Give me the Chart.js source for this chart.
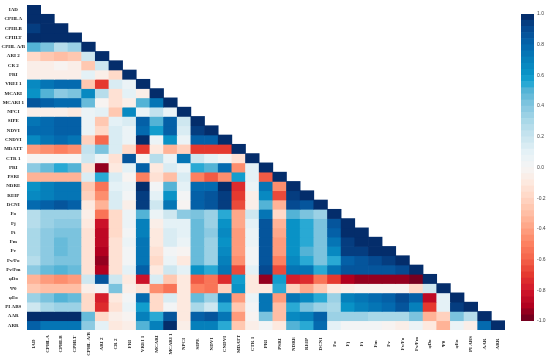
<!DOCTYPE html>
<html>
<head>
<meta charset="utf-8">
<script src="https://cdn.jsdelivr.net/npm/chart.js@4/dist/chart.umd.min.js"></script>
<style>
body { margin: 0; background: #fff; }
canvas { position: absolute; top: 0; }
#heat-canvas { left: 0; }
#cbar-canvas { left: 505px; }
</style>
</head>
<body>
<canvas id="heat-canvas" width="505" height="357"></canvas>
<canvas id="cbar-canvas" width="45" height="357"></canvas>
<script>
const labels = ['IAD', 'CPHLA', 'CPHLB', 'CPHLT', 'CPHL A/B', 'ARI 2', 'CR 2', 'FRI', 'VREI 1', 'MCARI', 'MCARI 1', 'NPCI', 'SIPE', 'NDVI', 'CNDVI', 'MDATT', 'CTR 1', 'PRI', 'PSRI', 'NDRE', 'REIP', 'DCNI', 'Fo', 'Fj', 'Fi', 'Fm', 'Fv', 'Fv/Fo', 'Fv/Fm', 'φDo', 'Ψ0', 'φEo', 'PI ABS', 'AAR', 'ARR'];

const rowIAD = [1];
const rowCPHLA = [.97, 1];
const rowCPHLB = [.95, .96, 1];
const rowCPHLT = [.96, .98, .97, 1];
const rowCPHLAB = [.5, .42, .27, .33, 1];
const rowARI2 = [-.18, -.28, -.31, -.28, .17, 1];
const rowCR2 = [-.05, -.07, -.03, -.05, -.27, .2, 1];
const rowFRI = [-.04, -.04, -.06, -.05, .1, -.04, -.2, 1];
const rowVREI1 = [.65, .72, .78, .76, -.27, -.68, .12, .05, 1];
const rowMCARI = [.6, .48, .38, .43, .65, .27, -.15, .08, -.05, 1];
const rowMCARI1 = [.85, .82, .76, .78, .45, -.03, -.15, -.04, .5, .75, 1];
const rowNPCI = [-.07, -.08, -.08, -.1, .05, .08, -.26, .65, .04, .23, .06, 1];
const rowSIPE = [.75, .78, .82, .8, .05, -.27, .1, .13, .8, .5, .8, .18, 1];
const rowNDVI = [.76, .78, .81, .8, .05, -.2, .12, .07, .77, .58, .83, .16, .95, 1];
const rowCNDVI = [.65, .75, .77, .75, -.22, -.6, .14, .05, .98, .05, .6, .04, .82, .8, 1];
const rowMDATT = [-.42, -.45, -.5, -.45, .22, .4, .13, -.18, -.7, -.12, -.36, -.22, -.7, -.72, -.7, 1];
const rowCTR1 = [-.02, -.02, -.03, -.03, .2, .04, -.14, .85, -.02, .27, .05, .72, .2, .1, .02, -.15, 1];
const rowPRI = [.37, .47, .52, .49, -.15, -.93, -.12, .1, .8, -.1, .13, .07, .55, .5, .77, -.47, .1, 1];
const rowPSRI = [-.33, -.35, -.35, -.35, .12, .55, .15, -.03, -.5, -.15, -.3, .14, -.5, -.62, -.47, .58, .1, -.62, 1];
const rowNDRE = [.6, .7, .75, .73, -.28, -.55, .1, .05, .98, .03, .48, .1, .78, .78, .98, -.75, .05, .75, -.45, 1];
const rowREIP = [.65, .7, .75, .73, -.22, -.45, .13, .03, .93, .1, .62, .03, .82, .88, .95, -.72, -.05, .65, -.65, .92, 1];
const rowDCNI = [.78, .83, .85, .83, -.1, -.33, .15, -.05, .93, .2, .75, -.03, .82, .87, .92, -.65, -.08, .5, -.33, .9, .88, 1];
const rowFo = [.27, .32, .35, .35, -.05, -.55, -.2, .04, .5, .06, .17, .37, .43, .36, .52, -.38, .18, .72, -.2, .5, .42, .33, 1];
const rowFj = [.26, .34, .39, .37, -.1, -.8, -.17, .04, .68, -.08, .1, .1, .44, .36, .62, -.38, .1, .85, -.35, .62, .52, .4, .88, 1];
const rowFi = [.29, .37, .43, .4, -.13, -.87, -.18, .03, .7, -.1, .13, .08, .45, .37, .65, -.42, .07, .85, -.38, .62, .52, .4, .8, .97, 1];
const rowFm = [.3, .38, .44, .42, -.13, -.87, -.15, .04, .72, -.1, .13, .06, .44, .36, .62, -.42, .05, .87, -.4, .62, .53, .41, .72, .92, .97, 1];
const rowFv = [.28, .38, .44, .41, -.13, -.88, -.13, .03, .72, -.15, .03, -.03, .44, .36, .65, -.42, .03, .87, -.42, .63, .5, .41, .65, .92, .95, .98, 1];
const rowFvFo = [.25, .38, .42, .4, -.13, -.92, -.13, .03, .75, -.2, .05, -.1, .46, .36, .68, -.45, .02, .87, -.5, .65, .55, .43, .55, .8, .85, .9, .92, 1];
const rowFvFm = [.37, .47, .5, .47, -.13, -.88, -.13, .1, .82, -.12, .2, .1, .62, .53, .75, -.65, .1, .9, -.65, .73, .72, .52, .73, .85, .85, .88, .88, .9, 1];
const rowPhiDo = [-.33, -.43, -.48, -.43, .17, .87, .18, -.1, -.8, .13, -.25, -.1, -.62, -.52, -.75, .58, -.1, -.95, .58, -.77, -.73, -.52, -.72, -.9, -.92, -.92, -.93, -.93, -.97, 1];
const rowPsi0 = [-.28, -.3, -.3, -.3, -.04, 0, .43, -.08, -.13, -.45, -.55, -.1, -.5, -.55, -.22, .6, -.1, -.1, .55, -.22, -.38, -.25, -.1, -.05, -.03, -.03, -.02, -.02, -.2, .2, 1];
const rowPhiEo = [.33, .43, .48, .45, -.2, -.78, -.12, .03, .78, -.2, .15, -.1, .45, .36, .75, -.42, .04, .75, -.42, .75, .65, .52, .35, .7, .75, .78, .82, .9, .8, -.85, .08, 1];
const rowPIABS = [.17, .3, .33, .32, -.18, -.75, -.13, .04, .58, -.2, .03, -.1, .3, .17, .52, -.27, .02, .72, -.3, .52, .4, .35, .3, .62, .7, .73, .76, .88, .7, -.7, .09, .92, 1];
const rowAAR = [.97, .97, .97, .96, .47, -.2, -.04, -.03, .7, .55, .85, -.1, .82, .85, .75, -.42, -.02, .4, -.3, .65, .68, .8, .35, .33, .33, .3, .3, .28, .42, -.35, -.22, .43, .25, 1];
const rowARR = [.82, .75, .73, .75, .37, .1, -.1, -.07, .5, .7, .98, -.04, .68, .7, .55, -.27, -.07, .03, -.1, .5, .55, .78, .08, .02, .02, .02, -.03, -.06, .07, -.1, -.35, .07, -.05, .78, 1];

const rows = [rowIAD, rowCPHLA, rowCPHLB, rowCPHLT, rowCPHLAB, rowARI2, rowCR2, rowFRI, rowVREI1, rowMCARI, rowMCARI1, rowNPCI, rowSIPE, rowNDVI, rowCNDVI, rowMDATT, rowCTR1, rowPRI, rowPSRI, rowNDRE, rowREIP, rowDCNI, rowFo, rowFj, rowFi, rowFm, rowFv, rowFvFo, rowFvFm, rowPhiDo, rowPsi0, rowPhiEo, rowPIABS, rowAAR, rowARR];

const cbarLevels = [-.98, -.94, -.9, -.86, -.82, -.78, -.74, -.7, -.66, -.62, -.58, -.54, -.5, -.46, -.42, -.38, -.34, -.3, -.26, -.22, -.18, -.14, -.1, -.06, -.02, .02, .06, .1, .14, .18, .22, .26, .3, .34, .38, .42, .46, .5, .54, .58, .62, .66, .7, .74, .78, .82, .86, .9, .94, .98];
const cbarTicks = [-1, -.8, -.6, -.4, -.2, 0, .2, .4, .6, .8, 1];

const colorStops = [
	[-1, '#67001f'], [-.9, '#b2001f'], [-.8, '#d1172b'], [-.7, '#e5392f'], [-.6, '#f4634a'],
	[-.5, '#fd8060'], [-.4, '#fea283'], [-.3, '#ffbea5'], [-.2, '#ffd6c4'], [-.1, '#fde9df'],
	[0, '#f5f5f5'], [.1, '#e4f1f6'], [.2, '#c9e5ef'], [.3, '#a9d8e8'], [.4, '#85c7e0'],
	[.5, '#53b3d6'], [.55, '#1fa6d3'], [.6, '#0a97c9'], [.7, '#0680bb'], [.8, '#0465ac'],
	[.9, '#054a91'], [.95, '#053a7c'], [1, '#03255f'],
];

const hexToRgb = hex => [1, 3, 5].map(i => parseInt(hex.slice(i, i + 2), 16));

const getColor = value => {
	// the colour bar has 50 flat bands, the cells use the same ones
	const band = Math.min(Math.max(Math.round((value + .98) / .04), 0), 49);
	const v = -.98 + band * .04;
	let i = 0;
	while (i < colorStops.length - 2 && v > colorStops[i + 1][0]) i++;
	const [v0, c0] = colorStops[i];
	const [v1, c1] = colorStops[i + 1];
	const t = (v - v0) / (v1 - v0);
	const a = hexToRgb(c0);
	const b = hexToRgb(c1);
	return `rgb(${a.map((c, k) => Math.round(c + (b[k] - c) * t)).join(',')})`;
}

const xLabelsPlugin = {
	id: 'xLabels',
	afterDraw(chart) {
		const { ctx, scales: { x } } = chart;
		ctx.save();
		ctx.font = 'bold 5px "Liberation Serif"';
		ctx.fillStyle = '#222';
		ctx.textAlign = 'center';
		ctx.textBaseline = 'middle';
		labels.forEach((label, i) => {
			ctx.save();
			ctx.translate(x.getPixelForValue(i), 344);
			ctx.rotate(-Math.PI / 2);
			ctx.fillText(label, 0, 0);
			ctx.restore();
		});
		ctx.restore();
	}
};

new Chart(document.querySelector('#heat-canvas').getContext('2d'), {
	type: 'bar',
	data: {
		labels: labels,
		datasets: rows.map((row, r) => ({
			label: labels[r],
			data: row.map((_, c) => ({ x: labels[c], y: [r - .5, r + .5] })),
			backgroundColor: row.map(getColor),
			barPercentage: 1,
			categoryPercentage: 1,
			grouped: false,
		}))
	},
	options: {
		responsive: false,
		animation: false,
		layout: { padding: { left: 0, top: 4, right: 0, bottom: 27 } },
		plugins: { legend: { display: false }, tooltip: { enabled: false } },
		scales: {
			x: {
				type: 'category',
				grid: { display: false, drawTicks: false },
				border: { display: false },
				ticks: { display: false },
				afterFit: axis => { axis.height = 0; },
			},
			y: {
				type: 'linear',
				reverse: true,
				min: -.5,
				max: 34.5,
				grid: { display: false, drawTicks: false },
				border: { display: false },
				afterBuildTicks: axis => { axis.ticks = labels.map((_, i) => ({ value: i })); },
				afterFit: axis => { axis.width = 27; },
				ticks: {
					autoSkip: false,
					padding: 2,
					crossAlign: 'center',
					color: '#222',
					font: { family: '"Liberation Serif"', size: 5, weight: 'bold' },
					callback: value => labels[value],
				},
			}
		}
	},
	plugins: [xLabelsPlugin]
});

new Chart(document.querySelector('#cbar-canvas').getContext('2d'), {
	type: 'bar',
	data: {
		labels: ['bar'],
		datasets: cbarLevels.map(v => ({
			data: [[v - .02, v + .02]],
			backgroundColor: getColor(v),
			barPercentage: 1,
			categoryPercentage: 1,
			grouped: false,
		}))
	},
	options: {
		responsive: false,
		animation: false,
		layout: { padding: { left: 16, top: 14, right: 0, bottom: 36 } },
		plugins: { legend: { display: false }, tooltip: { enabled: false } },
		scales: {
			x: { display: false },
			y: {
				position: 'right',
				min: -1,
				max: 1,
				grid: { display: false, drawTicks: false },
				border: { display: false },
				afterBuildTicks: axis => { axis.ticks = cbarTicks.map(value => ({ value })); },
				afterFit: axis => { axis.width = 16; },
				ticks: {
					padding: 3,
					color: '#444',
					font: { family: '"Liberation Sans"', size: 5 },
					callback: value => value.toFixed(1),
				},
			}
		}
	}
});
</script>
</body>
</html>
